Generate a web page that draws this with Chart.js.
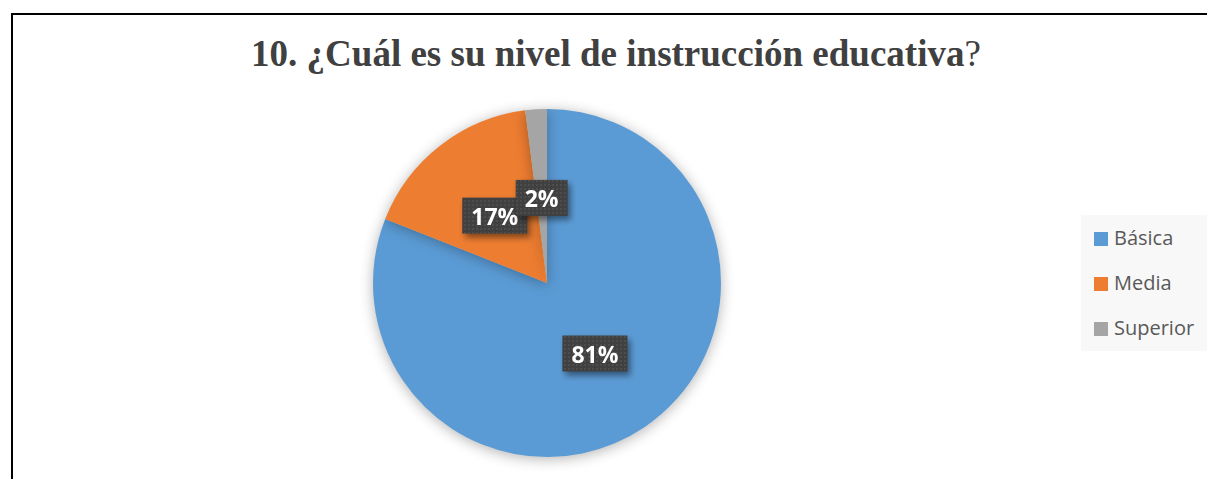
<!DOCTYPE html>
<html>
<head>
<meta charset="utf-8">
<script src="https://cdn.jsdelivr.net/npm/chart.js@4/dist/chart.umd.min.js"></script>
<style>
  body { margin: 0; width: 1207px; height: 479px; background: #fff; overflow: hidden; position: relative; }
  #frame { position: absolute; left: 11px; top: 13px; width: 1220px; height: 500px; border-left: 2px solid #000; border-top: 2px solid #000; }
  #title { position: absolute; left: 0; width: 1232px; top: 33px; line-height: 42px; text-align: center;
           font-family: "Liberation Serif", "Times New Roman", serif; font-size: 37px; color: #404040; }
  #title b { font-weight: bold; }
  #wrap { position: absolute; left: 347px; top: 83px; width: 400px; height: 400px; }
  #legend { position: absolute; left: 1081px; top: 215px; width: 126px; height: 136px; background: #f8f8f8; }
  .item { position: absolute; left: 13px; height: 24px; line-height: 24px; font-family: "Open Sans", sans-serif; font-size: 20px; color: #595959; white-space: nowrap; }
  .item span { display: inline-block; width: 14px; height: 14px; margin-right: 6px; vertical-align: -1px; }
</style>
</head>
<body>
<div id="frame"></div>
<div id="title"><b>10. ¿Cuál es su nivel de instrucción educativa</b>?</div>
<div id="wrap"><canvas id="c" width="400" height="400"></canvas></div>
<div id="legend"></div>
<script>
const categories = ['Básica', 'Media', 'Superior'];
const percentages = [81, 17, 2];
const colors = ['#5B9BD5', '#ED7D31', '#A5A5A5'];

// legend on the right, like the Excel one
const legend = document.getElementById('legend');
categories.forEach((name, i) => {
    const d = document.createElement('div');
    d.className = 'item';
    d.style.top = (11 + i * 45) + 'px';
    d.innerHTML = '<span style="background:' + colors[i] + '"></span>' + name;
    legend.appendChild(d);
});

// dotted dark fill for the data labels
const pat = document.createElement('canvas');
pat.width = 4; pat.height = 4;
const pctx = pat.getContext('2d');
pctx.fillStyle = '#404040';
pctx.fillRect(0, 0, 4, 4);
pctx.fillStyle = '#4d4d4d';
pctx.fillRect(1, 1, 2, 2);

const pieShadow = {
    id: 'pieShadow',
    beforeDatasetsDraw(chart) {
        const ctx = chart.ctx;
        ctx.save();
        ctx.shadowColor = 'rgba(0,0,0,0.3)';
        ctx.shadowBlur = 14;
        ctx.shadowOffsetX = 0;
        ctx.shadowOffsetY = 2;
    },
    afterDatasetsDraw(chart) {
        chart.ctx.restore();
    }
};

const boxLabels = {
    id: 'boxLabels',
    afterDraw(chart) {
        const ctx = chart.ctx;
        const meta = chart.getDatasetMeta(0);
        ctx.save();
        ctx.font = 'bold 23px "Open Sans"';
        ctx.textAlign = 'center';
        ctx.textBaseline = 'middle';
        meta.data.forEach((arc, i) => {
            const p = arc.getProps(['x', 'y', 'startAngle', 'endAngle', 'outerRadius']);
            const mid = (p.startAngle + p.endAngle) / 2;
            const r = p.outerRadius * 0.49;
            const cx = p.x + Math.cos(mid) * r;
            const cy = p.y + Math.sin(mid) * r;
            const txt = percentages[i] + '%';
            const w = ctx.measureText(txt).width + 18;
            const h = 36;
            ctx.save();
            ctx.shadowColor = 'rgba(0,0,0,0.45)';
            ctx.shadowBlur = 6;
            ctx.shadowOffsetX = 3;
            ctx.shadowOffsetY = 4;
            ctx.fillStyle = ctx.createPattern(pat, 'repeat');
            ctx.fillRect(cx - w / 2, cy - h / 2, w, h);
            ctx.restore();
            ctx.fillStyle = '#ffffff';
            ctx.fillText(txt, cx, cy + 3);
        });
        ctx.restore();
    }
};

new Chart(document.getElementById('c'), {
    type: 'pie',
    data: {
        labels: categories,
        datasets: [{
            data: percentages,
            backgroundColor: colors,
            borderWidth: 0
        }]
    },
    options: {
        responsive: false,
        animation: false,
        layout: { padding: 26 },
        plugins: {
            legend: { display: false },
            tooltip: { enabled: false }
        }
    },
    plugins: [pieShadow, boxLabels]
});
</script>
</body>
</html>
